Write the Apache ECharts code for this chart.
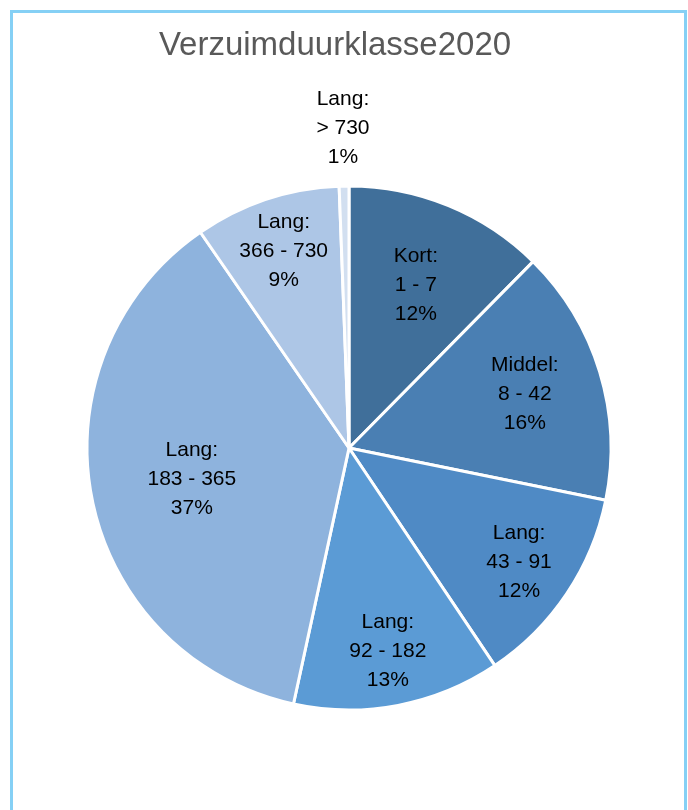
<!DOCTYPE html>
<html>
<head>
<meta charset="utf-8">
<script src="https://cdn.jsdelivr.net/npm/echarts@6/dist/echarts.min.js"></script>
<style>
  html, body { margin: 0; padding: 0; background: #fff; }
  #frame { position: absolute; left: 10px; top: 10px; width: 671px; height: 840px; border: 3px solid #85d0f5; }
  #chart { position: absolute; left: 0; top: 0; width: 688px; height: 810px; }
</style>
</head>
<body>
<div id="frame"></div>
<div id="chart"></div>
<script>
// slices, clockwise from 12 o'clock
var groups = ['Kort:', 'Middel:', 'Lang:', 'Lang:', 'Lang:', 'Lang:', 'Lang:'];
var ranges = ['1 - 7', '8 - 42', '43 - 91', '92 - 182', '183 - 365', '366 - 730', '> 730'];
var shares = [12.4, 15.8, 12.4, 12.8, 37.0, 9.0, 0.6];
var colors = ['#406f9a', '#4a7fb3', '#4f8ac5', '#5b9bd5', '#8eb3dd', '#adc6e6', '#d2dff0'];
// where each label sits, as a fraction of the radius
var labelPos = [0.66, 0.69, 0.77, 0.78, 0.6, 0.78, 1.21];

var R = 262;
var total = shares.reduce(function (a, b) { return a + b; }, 0);

function buildData() {
    var out = [];
    var cum = 0;
    for (var i = 0; i < shares.length; i++) {
        var mid = (cum + shares[i] / 2) / total * 2 * Math.PI;
        cum += shares[i];
        var d = labelPos[i] * R - R / 2;
        out.push({
            name: groups[i] + '\n' + ranges[i],
            value: shares[i],
            itemStyle: { color: colors[i] },
            label: { offset: [d * Math.sin(mid), -d * Math.cos(mid)] }
        });
    }
    return out;
}

var myChart = echarts.init(document.getElementById('chart'));
var option = {
    animation: false,
    title: {
        text: 'Verzuimduurklasse2020',
        left: 330,
        top: 24,
        textAlign: 'center',
        textStyle: {
            fontFamily: 'Liberation Sans',
            fontSize: 33,
            fontWeight: 'normal',
            color: '#595959'
        }
    },
    series: [{
        type: 'pie',
        center: [349, 448],
        radius: [0, R],
        startAngle: 90,
        clockwise: true,
        percentPrecision: 0,
        avoidLabelOverlap: false,
        itemStyle: { borderColor: '#fff', borderWidth: 3 },
        label: {
            show: true,
            position: 'inside',
            formatter: '{b}\n{d}%',
            align: 'center',
            fontFamily: 'Liberation Sans',
            fontSize: 21,
            lineHeight: 29,
            color: '#000'
        },
        labelLine: { show: false },
        emphasis: { disabled: true },
        data: buildData()
    }]
};
myChart.setOption(option);
</script>
</body>
</html>
